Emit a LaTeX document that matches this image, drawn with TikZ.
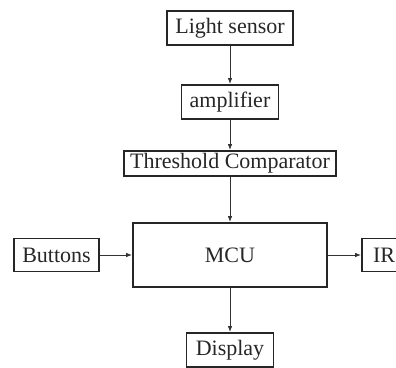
\documentclass[tikz,border=0pt]{standalone}
\usepackage{fontspec}
\setmainfont{Liberation Serif}
\usetikzlibrary{arrows.meta}
\begin{document}
\begin{tikzpicture}[x=1pt,y=-1pt,
  blk/.style={draw=black!85, line width=1.8pt, inner sep=0pt,
    font=\fontsize{22}{24}\selectfont, text=black!85},
  link/.style={draw=black!80, line width=0.9pt, -{Latex[length=6pt,width=4.5pt]}}]
  \useasboundingbox (0,0) rectangle (396,367);
  \clip (0,0) rectangle (396,367);
  % signal chain
  \node[blk, minimum width=126pt, minimum height=34pt] (sensor) at (230,28) {Light sensor};
  \node[blk, minimum width=97pt, minimum height=34pt] (amp) at (230,102) {amplifier};
  \node[blk, minimum width=212pt, minimum height=25pt] (thr) at (230,163.5) {Threshold Comparator};
  \node[blk, minimum width=194pt, minimum height=64pt] (mcu) at (230,255) {MCU};
  \node[blk, minimum width=85pt, minimum height=33pt] (btn) at (56.5,255) {Buttons};
  \node[blk, minimum width=44pt, minimum height=33pt] (ir) at (384,255) {IR};
  \node[blk, minimum width=87pt, minimum height=34pt] (disp) at (230,350) {Display};
  % connectors
  \draw[link] (sensor) -- (amp);
  \draw[link] (amp) -- (thr);
  \draw[link] (thr) -- (mcu);
  \draw[link] (btn) -- (mcu);
  \draw[link] (mcu) -- (ir);
  \draw[link] (mcu) -- (disp);
\end{tikzpicture}
\end{document}
